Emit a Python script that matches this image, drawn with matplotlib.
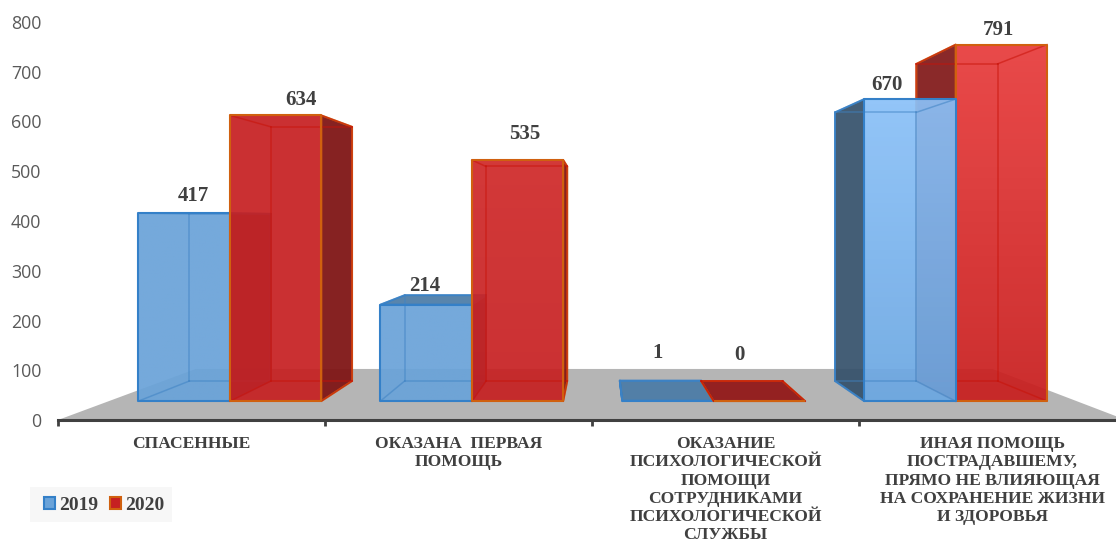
import matplotlib
matplotlib.use('Agg')
import matplotlib.pyplot as plt
import numpy as np
from matplotlib.patches import Polygon, Patch, Rectangle
from matplotlib.colors import LinearSegmentedColormap

categories = ['СПАСЕННЫЕ',
              'ОКАЗАНА  ПЕРВАЯ\nПОМОЩЬ',
              'ОКАЗАНИЕ\nПСИХОЛОГИЧЕСКОЙ\nПОМОЩИ\nСОТРУДНИКАМИ\nПСИХОЛОГИЧЕСКОЙ\nСЛУЖБЫ',
              'ИНАЯ ПОМОЩЬ\nПОСТРАДАВШЕМУ,\nПРЯМО НЕ ВЛИЯЮЩАЯ\nНА СОХРАНЕНИЕ ЖИЗНИ\nИ ЗДОРОВЬЯ']
series_names = ['2019', '2020']
values_2019 = [417, 214, 1, 670]
values_2020 = [634, 535, 0, 791]

# perspective of the fake 3d box
vx, vy = 2.03, 404
front_depth = 0.906
back_depth = 0.806
floor_depth = 0.746
half = 0.378

blue = dict(edge='#3480c8', inner='#3f83c4', dark='#34506a', lid='#4a7ba6',
            top=['#6aa3d9', '#6aa3d9', '#6aa3d9', '#8bc1f8'],
            bottom=['#6aa3d9', '#6aa3d9', '#6aa3d9', '#6ba7e2'])
red = dict(edge='#d0600f', inner='#c81208', dark='#801616', lid='#921414',
           top=['#c62022', '#d02a2a', '#c62022', '#e83c3c'],
           bottom=['#c62022', '#c62022', '#c62022', '#c81e1e'])

# offset of the value labels from the top of the front face, px
label_dx = [[9, -1, -10, -23], [25, 7, -20, -3]]
label_dy = [[17, 19, 48, 14], [15, 26, 46, 15]]

text_col = '#404040'
serif = 'Liberation Serif'


def project(u, v, d):
    return vx + d * (u - vx), vy + d * (v - vy)


def quad(pts, color, alpha, z, edge='none', lw=0):
    p = Polygon(pts, closed=True, facecolor=color, edgecolor=edge, lw=lw, alpha=alpha, zorder=z, joinstyle='round')
    ax.add_patch(p)
    return p


def draw_bar(left, right, val, st, cat, z):
    fl, ft = [project(left, y, front_depth) for y in (0, val)]
    fr, frt = [project(right, y, front_depth) for y in (0, val)]
    bl, bt = [project(left, y, back_depth) for y in (0, val)]
    br, brt = [project(right, y, back_depth) for y in (0, val)]

    # faces seen from the outside are dark
    if right < vx:
        quad([fr, frt, brt, br], st['dark'], 0.95, z, st['edge'], 1.4)
    if left > vx:
        quad([fl, ft, bt, bl], st['dark'], 0.92, z, st['edge'], 1.4)
    if val < vy:
        quad([ft, frt, brt, bt], st['lid'], 0.92, z + 0.1, st['edge'], 1.4)

    cmap = LinearSegmentedColormap.from_list('f', [st['bottom'][cat], st['top'][cat]])
    im = ax.imshow(np.linspace(1, 0, 64).reshape(-1, 1), cmap=cmap, aspect='auto',
                   extent=(fl[0], fr[0], fl[1], ft[1] + 0.01), alpha=0.93, zorder=z + 0.2, vmin=0, vmax=1)
    im.set_clip_path(quad([fl, ft, frt, fr], 'none', 1, z + 0.2))

    # edges of the box showing through
    inner = [[bl, bt], [bt, brt], [brt, br], [br, bl], [fl, bl], [fr, br], [ft, bt], [frt, brt]]
    for a, b in inner:
        ax.plot([a[0], b[0]], [a[1], b[1]], color=st['inner'], lw=1.1, alpha=0.55, zorder=z + 0.3)
    quad([fl, ft, frt, fr], 'none', 1, z + 0.4, st['edge'], 1.5)
    return ft, frt


fig = plt.figure(figsize=(11.16, 5.46), dpi=100)
ax = fig.add_axes([58 / 1116, (546 - 420) / 546, 1068 / 1116, 398 / 546])
ax.set_facecolor('none')

# floor
quad([project(0, 0, 1), project(0, 0, floor_depth), project(4, 0, floor_depth), project(4, 0, 1)],
     '#b5b5b5', 1, 1)

for i in range(4):
    c = i + 0.5
    bars = [(c - half, c, values_2019[i], blue, 0), (c, c + half, values_2020[i], red, 1)]
    # the pair is painted from the outside towards the middle of the view
    if c > vx + 0.5:
        bars = bars[::-1]
    for n, (l, r, val, st, s) in enumerate(bars):
        ft, frt = draw_bar(l, r, val, st, i, 2 + i + n * 0.5 * 0.9)
        ax.annotate(str(val), ((ft[0] + frt[0]) / 2, ft[1]),
                    xytext=(label_dx[s][i] * 0.72, label_dy[s][i] * 0.72), textcoords='offset points',
                    ha='center', va='center', fontsize=15, fontweight='bold', family=serif,
                    color=text_col, zorder=20)

ax.set_xlim(0, 4)
ax.set_ylim(0, 800)
for s in ['top', 'left', 'right']:
    ax.spines[s].set_visible(False)
ax.spines['bottom'].set_linewidth(2.2)
ax.spines['bottom'].set_color('#404040')
ax.spines['bottom'].set_zorder(15)

ax.set_yticks(np.arange(0, 801, 100))
ax.tick_params(axis='y', length=0, pad=12, labelsize=12.8, labelcolor='#595959')
for t in ax.get_yticklabels():
    t.set_family('Open Sans')

ax.set_xticks(np.arange(0, 4))
ax.set_xticklabels([])
ax.tick_params(axis='x', which='major', length=4, width=2, color='#404040')
ax.set_xticks(np.arange(4) + 0.5, minor=True)
ax.set_xticklabels(categories, minor=True, family=serif, fontweight='bold', fontsize=12.6,
                   color=text_col, linespacing=1.19, ha='center', va='top')
ax.tick_params(axis='x', which='minor', length=0, pad=11.5)
ax.patch.set_visible(False)

# legend sits on a pale box wider than its own padding
fig.add_artist(Rectangle((30 / 1116, 1 - 522 / 546), 142 / 1116, 35 / 546, transform=fig.transFigure,
                         facecolor='#f7f7f7', edgecolor='none'))
handles = [Patch(facecolor='#6aa3d9', edgecolor=blue['edge'], lw=1.5),
           Patch(facecolor='#c62022', edgecolor=red['edge'], lw=1.5)]
fig.legend(handles, series_names, loc='center left', bbox_to_anchor=(44 / 1116, 1 - 505 / 546), ncol=2,
           frameon=False, prop=dict(family=serif, weight='bold', size=14), labelcolor=text_col,
           handlelength=0.57, handleheight=0.57, handletextpad=0.2, columnspacing=0.62,
           borderpad=0, borderaxespad=0)

fig.savefig('out.png', dpi=100)
